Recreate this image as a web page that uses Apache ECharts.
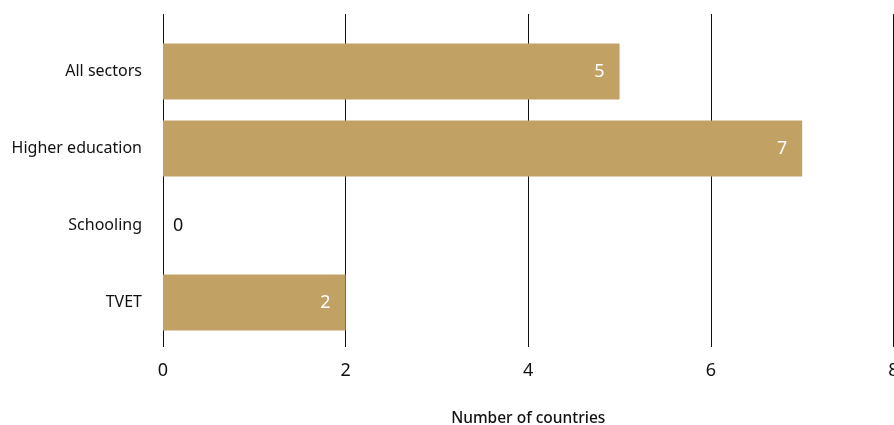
<!DOCTYPE html>
<html><head><meta charset="utf-8">
<script src="https://cdn.jsdelivr.net/npm/echarts@6/dist/echarts.min.js"></script>
<style>html,body{margin:0;padding:0;background:#fff}#c{width:894px;height:425px}</style>
</head><body><div id="c"></div>
<script>
const categories = ['All sectors', 'Higher education', 'Schooling', 'TVET'];
const values = [5, 7, 0, 2];
const xTicks = [0, 2, 4, 6, 8];
const xTitle = 'Number of countries';

const font = 'Noto Sans';
const chart = echarts.init(document.getElementById('c'), null, {renderer: 'canvas'});
const dataItems = values.map(v => v === 0 ? {
  value: v,
  label: {position: 'right', color: '#111', distance: 10}
} : v);

chart.setOption({
  animation: false,
  grid: [
    {left: 163, right: 0.5, top: 33, bottom: 84, containLabel: false, outerBoundsMode: 'none'},
    {left: 163, right: 0.5, top: 14, bottom: 78, containLabel: false, outerBoundsMode: 'none'}
  ],
  xAxis: [
    {gridIndex: 0, type: 'value', min: xTicks[0], max: xTicks[xTicks.length - 1], interval: 2,
      axisLine: {show: false}, axisTick: {show: false}, axisLabel: {show: false}, splitLine: {show: false}},
    {gridIndex: 1, type: 'value', min: xTicks[0], max: xTicks[xTicks.length - 1], interval: 2,
      axisLine: {show: false}, axisTick: {show: false},
      axisLabel: {show: true, color: '#111', fontSize: 18, fontFamily: font, margin: 15},
      splitLine: {show: true, lineStyle: {color: '#111', width: 1}},
      name: xTitle, nameLocation: 'middle', nameGap: 64,
      nameTextStyle: {color: '#111', fontSize: 15.5, fontFamily: font, fontWeight: 500}}
  ],
  yAxis: [
    {gridIndex: 0, type: 'category', data: categories, inverse: true,
      axisLine: {show: false}, axisTick: {show: false},
      axisLabel: {color: '#111', fontSize: 16, fontFamily: font, margin: 21}},
    {gridIndex: 1, type: 'category', data: categories, show: false}
  ],
  series: [
    {type: 'bar', xAxisIndex: 1, yAxisIndex: 1, data: [], silent: true},
    {type: 'bar', xAxisIndex: 0, yAxisIndex: 0, data: dataItems,
      barCategoryGap: '27%',
      itemStyle: {color: '#C2A165'},
      label: {show: true, position: 'insideRight', distance: 15, color: '#fff',
        fontSize: 18, fontFamily: font}}
  ]
});
</script></body></html>
